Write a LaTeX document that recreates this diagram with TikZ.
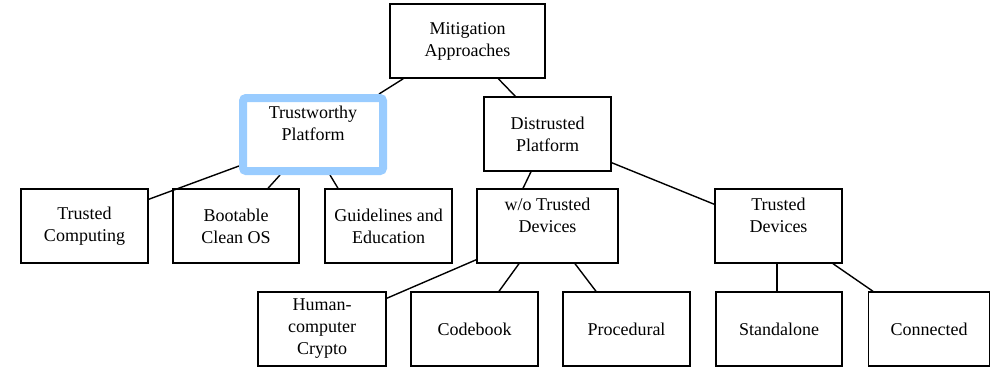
\documentclass[tikz,border=0pt]{standalone}
\usepackage{fontspec}
\setmainfont{Liberation Serif}
\usetikzlibrary{backgrounds}
\definecolor{hlblue}{RGB}{153,204,255}
\tikzset{
  box/.style={draw=black, line width=1.4pt, rectangle, align=center, inner sep=0pt,
    font=\fontsize{18}{22}\selectfont},
  hlbox/.style={draw=hlblue, line width=8pt, rounded corners=3pt, rectangle, align=center, inner sep=0pt,
    font=\fontsize{18}{22}\selectfont},
  conn/.style={draw=black, line width=1.4pt}
}
\begin{document}
\begin{tikzpicture}[x=1pt,y=-1pt]
\useasboundingbox (0,0) rectangle (991,367);
% level 0
\node[box, minimum width=155pt, minimum height=74pt] (ma) at (467.5,41) {Mitigation\\Approaches};
% level 1
\node[hlbox, minimum width=140pt, minimum height=73pt] (tp) at (313,134.5) {Trustworthy\\Platform\\\mbox{}};
\node[box, minimum width=127pt, minimum height=74pt] (dp) at (547.5,134) {Distrusted\\Platform};
% level 2
\node[box, minimum width=127pt, minimum height=74pt] (tc) at (84.5,226) {Trusted\\Computing};
\node[box, minimum width=126pt, minimum height=74pt] (bc) at (236,226) {Bootable\\Clean OS};
\node[box, minimum width=127pt, minimum height=74pt] (ge) at (388.5,226) {Guidelines and\\Education};
\node[box, minimum width=141pt, minimum height=74pt] (wo) at (547.5,226) {w/o Trusted\\Devices\\\mbox{}};
\node[box, minimum width=127pt, minimum height=74pt] (td) at (778.5,226) {Trusted\\Devices\\\mbox{}};
% level 3
\node[box, minimum width=128pt, minimum height=74pt] (hc) at (322,329) {Human-\\computer\\Crypto};
\node[box, minimum width=127pt, minimum height=74pt] (cb) at (474.5,329) {Codebook};
\node[box, minimum width=127pt, minimum height=74pt] (pr) at (626.5,329) {Procedural};
\node[box, minimum width=126pt, minimum height=74pt] (sa) at (779,329) {Standalone};
\node[box, minimum width=121pt, minimum height=74pt] (cn) at (929,329) {Connected};
% connectors
\begin{scope}[on background layer]
\draw[conn] ([xshift=14pt]ma.south west) -- ([xshift=-8pt]tp.north east);
\draw[conn] ([xshift=109pt]ma.south west) -- ([xshift=32pt]dp.north west);
\draw[conn] ([yshift=9pt]tp.south west) -- ([yshift=-11pt]tc.north east);
\draw[conn] ([xshift=-33pt]tp.south) -- ([xshift=32pt]bc.north);
\draw[conn] ([xshift=17pt]tp.south) -- ([xshift=-50.5pt]ge.north);
\draw[conn] ([xshift=-16.5pt]dp.south) -- ([xshift=-24.5pt]wo.north);
\draw[conn] ([yshift=9pt]dp.south east) -- ([yshift=-16pt]td.north west);
\draw[conn] ([yshift=4pt]wo.south west) -- ([yshift=-7pt]hc.north east);
\draw[conn] ([xshift=-28.5pt]wo.south) -- ([xshift=24.5pt]cb.north);
\draw[conn] ([xshift=27.5pt]wo.south) -- ([xshift=-30.5pt]pr.north);
\draw[conn] ([xshift=-1.5pt]td.south) -- ([xshift=-2pt]sa.north);
\draw[conn] ([xshift=54.5pt]td.south) -- ([xshift=-56pt]cn.north);
\end{scope}
\end{tikzpicture}
\end{document}
